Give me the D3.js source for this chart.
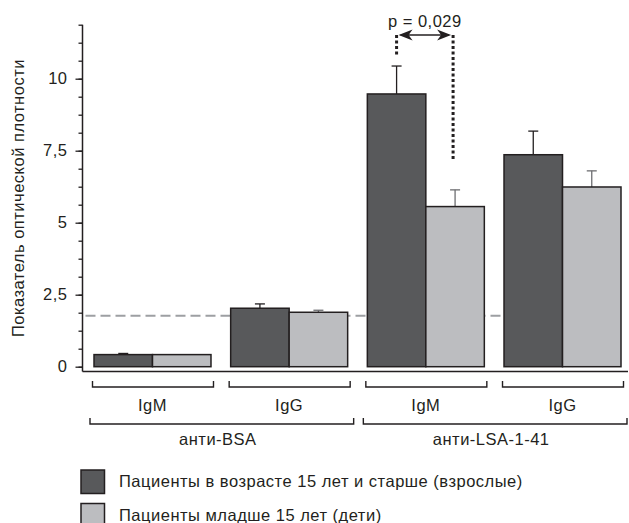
<!DOCTYPE html>
<html>
<head>
<meta charset="utf-8">
<script src="https://cdn.jsdelivr.net/npm/d3@7"></script>
<style>
    body { margin: 0; background: #fff; }
    svg text { font-family: "Liberation Sans", Arial, sans-serif; fill: #231f20; font-size: 16.5px; letter-spacing: 0.5px; }
</style>
</head>
<body>
<div id="chart"></div>
<script>
// Categories
const antigens = ['анти-BSA', 'анти-LSA-1-41'];
const isotypes = ['IgM', 'IgG', 'IgM', 'IgG'];
const groupAntigen = [0, 0, 1, 1];

// Series: mean optical density and error
const seriesNames = [
    'Пациенты в возрасте 15 лет и старше (взрослые)',
    'Пациенты младше 15 лет (дети)'
];
const adults = [0.42, 2.03, 9.47, 7.36];
const adultsErr = [0.04, 0.15, 0.97, 0.82];
const children = [0.42, 1.89, 5.56, 6.24];
const childrenErr = [0, 0.07, 0.58, 0.56];

// Cut-off level (dashed line)
const cutoff = 1.77;

// Significance bracket: group index, level, bottom of left / right leg
const sigGroup = 2;
const sigValues = [11.52, 10.76, 7.21];
const sigLabel = 'p = 0,029';

// Y axis ticks
const yMajorTicks = [0, 2.5, 5, 7.5, 10];
const yMinorTicks = d3.range(0, 12, 0.625);
const yTickLabels = ['0', '2,5', '5', '7,5', '10'];
const yTitle = 'Показатель оптической плотности';

const width = 629;
const height = 523;

const colors = ['#58595b', '#bcbdc0'];
const errColors = ['#231f20', '#6d6e71'];

const svg = d3.select('#chart')
    .append('svg')
    .attr('width', width)
    .attr('height', height);

// Scales
const y = d3.scaleLinear()
    .domain([0, 11.875])
    .range([366.7, 24.7]);

const x = d3.scaleBand()
    .domain(d3.range(isotypes.length))
    .range([94, 621])
    .paddingInner(0.144)
    .paddingOuter(0);

const xSub = d3.scaleBand()
    .domain([0, 1])
    .range([0, x.bandwidth()]);

const axisX = 82.5;
const baseY = 371.5;

// Cut-off dashed line (behind bars)
svg.append('line')
    .attr('x1', axisX + 3)
    .attr('x2', x(3) - 2)
    .attr('y1', y(cutoff))
    .attr('y2', y(cutoff))
    .style('stroke', '#9d9fa2')
    .style('stroke-width', 2)
    .style('stroke-dasharray', '10,5');

// Bars
const series = [
    { values: adults, errs: adultsErr },
    { values: children, errs: childrenErr }
];

series.forEach((s, si) => {
    const g = svg.append('g');
    const rows = s.values.map((v, i) => ({ i, v, e: s.errs[i] }));
    const withErr = rows.filter(d => d.e > 0);
    const cx = d => x(d.i) + xSub(si) + xSub.bandwidth() / 2;

    // Error bars
    g.selectAll('line.err')
        .data(withErr)
        .enter()
        .append('line')
        .attr('x1', cx)
        .attr('x2', cx)
        .attr('y1', d => y(d.v))
        .attr('y2', d => y(d.v + d.e))
        .style('stroke', errColors[si])
        .style('stroke-width', 1.3);

    g.selectAll('line.cap')
        .data(withErr)
        .enter()
        .append('line')
        .attr('x1', d => cx(d) - 5)
        .attr('x2', d => cx(d) + 5)
        .attr('y1', d => y(d.v + d.e))
        .attr('y2', d => y(d.v + d.e))
        .style('stroke', errColors[si])
        .style('stroke-width', 1.3);

    g.selectAll('rect')
        .data(rows)
        .enter()
        .append('rect')
        .attr('x', d => x(d.i) + xSub(si))
        .attr('y', d => y(d.v))
        .attr('width', xSub.bandwidth())
        .attr('height', d => y(0) - y(d.v))
        .style('fill', colors[si])
        .style('stroke', '#231f20')
        .style('stroke-width', 1.5);
});

// Y axis
svg.append('line')
    .attr('x1', axisX).attr('x2', axisX)
    .attr('y1', y(11.875)).attr('y2', baseY)
    .style('stroke', '#231f20')
    .style('stroke-width', 1.5);

svg.append('line')
    .attr('x1', axisX).attr('x2', 628)
    .attr('y1', baseY).attr('y2', baseY)
    .style('stroke', '#231f20')
    .style('stroke-width', 1.5);

const yAxisMinor = d3.axisLeft(y)
    .tickValues(yMinorTicks)
    .tickSize(4)
    .tickFormat('');

const yAxisMajor = d3.axisLeft(y)
    .tickValues(yMajorTicks)
    .tickSize(7)
    .tickPadding(8)
    .tickFormat((d, i) => yTickLabels[i]);

[yAxisMinor, yAxisMajor].forEach(ax => {
    const g = svg.append('g')
        .attr('transform', `translate(${axisX},0)`)
        .call(ax);
    g.select('.domain').remove();
    g.selectAll('.tick line')
        .style('stroke', '#231f20')
        .style('stroke-width', 1.3);
    g.selectAll('.tick text')
        .style('font-size', '16.5px')
        .style('font-family', '"Liberation Sans", Arial, sans-serif')
        .style('fill', '#231f20');
});

// Y title
svg.append('text')
    .attr('transform', `translate(24,${(y(11.875) + baseY) / 2}) rotate(-90)`)
    .attr('text-anchor', 'middle')
    .text(yTitle);

// Brackets
function bracket(x1, x2, yLine, tick) {
    svg.append('path')
        .attr('d', `M${x1},${yLine - tick}V${yLine}H${x2}V${yLine - tick}`)
        .style('fill', 'none')
        .style('stroke', '#231f20')
        .style('stroke-width', 1.4);
}

isotypes.forEach((name, i) => {
    bracket(x(i) - 1.5, x(i) + x.bandwidth() + 2.5, 387, 6);
    svg.append('text')
        .attr('x', x(i) + x.bandwidth() / 2)
        .attr('y', 411)
        .attr('text-anchor', 'middle')
        .text(name);
});

antigens.forEach((name, a) => {
    const idx = groupAntigen.map((g, i) => g === a ? i : -1).filter(i => i >= 0);
    const x1 = x(idx[0]) - 4;
    const x2 = x(idx[idx.length - 1]) + x.bandwidth() + 6;
    bracket(x1, x2, 424, 6);
    svg.append('text')
        .attr('x', (x1 + x2) / 2 - 4)
        .attr('y', 445)
        .attr('text-anchor', 'middle')
        .text(name);
});

// Significance marker
const sxL = x(sigGroup) + xSub(0) + xSub.bandwidth() / 2;
const sxR = x(sigGroup) + xSub(1) + xSub.bandwidth() / 2 - 2;
const sy = y(sigValues[0]);

[[sxL, sigValues[1]], [sxR, sigValues[2]]].forEach(([sx, v]) => {
    svg.append('line')
        .attr('x1', sx).attr('x2', sx)
        .attr('y1', sy).attr('y2', y(v))
        .style('stroke', '#231f20')
        .style('stroke-width', 3)
        .style('stroke-dasharray', '3,2.5');
});

svg.append('line')
    .attr('x1', sxL + 4).attr('x2', sxR - 4)
    .attr('y1', sy).attr('y2', sy)
    .style('stroke', '#231f20')
    .style('stroke-width', 1.5);

// Arrow heads
[[sxL + 2, 1], [sxR - 2, -1]].forEach(([ax, dir]) => {
    svg.append('path')
        .attr('d', `M${ax},${sy}L${ax + dir * 14},${sy - 5.5}L${ax + dir * 10},${sy}L${ax + dir * 14},${sy + 5.5}Z`)
        .style('fill', '#231f20');
});

svg.append('text')
    .attr('x', (sxL + sxR) / 2)
    .attr('y', sy - 8)
    .attr('text-anchor', 'middle')
    .text(sigLabel);

// Legend
const legend = svg.append('g');
seriesNames.forEach((name, i) => {
    legend.append('rect')
        .attr('x', 81)
        .attr('y', 470 + i * 33.5)
        .attr('width', 23.5)
        .attr('height', 23.5)
        .style('fill', colors[i])
        .style('stroke', '#231f20')
        .style('stroke-width', 1.5);
    legend.append('text')
        .attr('x', 119)
        .attr('y', 487 + i * 33.5)
        .text(name);
});
</script>
</body>
</html>
